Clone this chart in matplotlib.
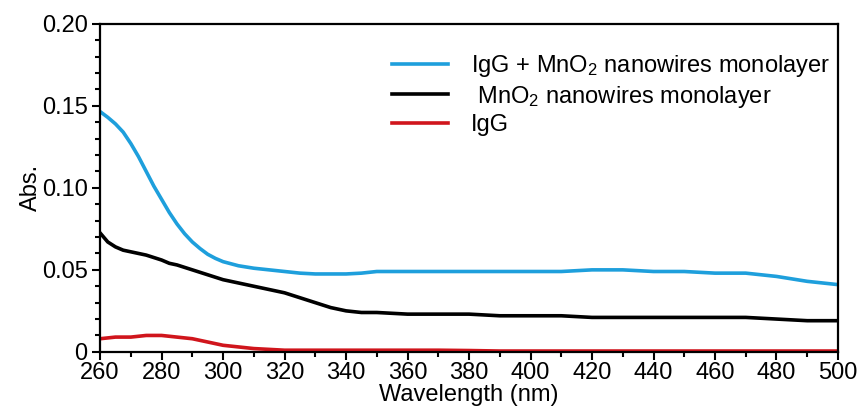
import numpy as np
import matplotlib.pyplot as plt
import matplotlib as mpl
from matplotlib.ticker import MultipleLocator, FuncFormatter

mpl.rcParams['font.family'] = 'Liberation Sans'
mpl.rcParams['mathtext.fontset'] = 'custom'
mpl.rcParams['mathtext.rm'] = 'Liberation Sans'
mpl.rcParams['mathtext.it'] = 'Liberation Sans'

# Data
wl = [260, 262.5, 265, 267.5, 270, 272.5, 275, 277.5, 280, 282.5, 285, 287.5, 290,
      292.5, 295, 297.5, 300, 305, 310, 315, 320, 325, 330, 335, 340, 345, 350,
      360, 370, 380, 390, 400, 410, 420, 430, 440, 450, 460, 470, 480, 490, 500]

abs_igg_mno2 = [0.1465, 0.143, 0.139, 0.134, 0.127, 0.119, 0.110, 0.101, 0.093, 0.085,
                0.078, 0.072, 0.067, 0.063, 0.0595, 0.057, 0.055, 0.0525, 0.051, 0.050,
                0.049, 0.048, 0.0475, 0.0475, 0.0475, 0.048, 0.049, 0.049, 0.049, 0.049,
                0.049, 0.049, 0.049, 0.050, 0.050, 0.049, 0.049, 0.048, 0.048, 0.046,
                0.043, 0.041]

abs_mno2 = [0.0725, 0.067, 0.064, 0.062, 0.061, 0.060, 0.059, 0.0575, 0.056, 0.054,
            0.053, 0.0515, 0.050, 0.0485, 0.047, 0.0455, 0.044, 0.042, 0.040, 0.038,
            0.036, 0.033, 0.030, 0.027, 0.025, 0.024, 0.024, 0.023, 0.023, 0.023,
            0.022, 0.022, 0.022, 0.021, 0.021, 0.021, 0.021, 0.021, 0.021, 0.020,
            0.019, 0.019]

abs_igg = [0.008, 0.0085, 0.009, 0.009, 0.009, 0.0095, 0.010, 0.010, 0.010, 0.0095,
           0.009, 0.0085, 0.008, 0.007, 0.006, 0.005, 0.004, 0.003, 0.002, 0.0015,
           0.001, 0.001, 0.001, 0.001, 0.001, 0.001, 0.001, 0.001, 0.001, 0.0008,
           0.0005, 0.0005, 0.0005, 0.0005, 0.0005, 0.0005, 0.0005, 0.0005, 0.0005, 0.0005,
           0.0005, 0.0005]

fig = plt.figure(figsize=(8.63, 4.12), dpi=100)
ax = fig.add_axes([0.116, 0.146, 0.855, 0.796])

ax.plot(wl, abs_igg_mno2, color='#1e9fdc', lw=2.6, label='IgG + MnO$_2$ nanowires monolayer')
ax.plot(wl, abs_mno2, color='black', lw=2.6, label=' MnO$_2$ nanowires monolayer')
ax.plot(wl, abs_igg, color='#d0151c', lw=2.6, label='IgG')

ax.set_xlim(260, 500)
ax.set_ylim(0, 0.20)
ax.xaxis.set_major_locator(MultipleLocator(20))
ax.xaxis.set_minor_locator(MultipleLocator(10))
ax.yaxis.set_major_locator(MultipleLocator(0.05))
ax.yaxis.set_minor_locator(MultipleLocator(0.01))
ax.yaxis.set_major_formatter(FuncFormatter(lambda v, p: '0' if v == 0 else f'{v:.2f}'))

ax.tick_params(which='major', direction='out', length=6, width=1.5, labelsize=17, pad=1)
ax.tick_params(axis='y', which='major', pad=3)
ax.tick_params(which='minor', direction='out', length=3.5, width=1.5)
for s in ax.spines.values():
    s.set_linewidth(1.6)

ax.set_xlabel('Wavelength (nm)', fontsize=17, labelpad=0)
ax.set_ylabel('Abs.', fontsize=17, labelpad=0)

ax.legend(loc='upper left', bbox_to_anchor=(0.383, 0.94), frameon=False, fontsize=17,
          handlelength=2.35, handletextpad=1.0, labelspacing=0.2, borderaxespad=0)

plt.savefig('out.png', dpi=100)
